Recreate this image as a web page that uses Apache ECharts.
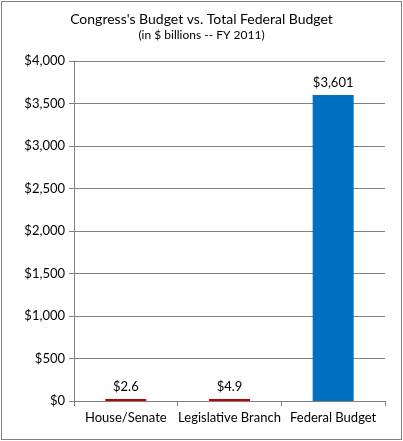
<!DOCTYPE html>
<html>
<head>
<meta charset="utf-8">
<script src="https://cdn.jsdelivr.net/npm/echarts@6/dist/echarts.min.js"></script>
<style>
html,body{margin:0;padding:0;background:#fff;}
#c{position:absolute;left:1px;top:1px;width:399px;height:437px;border:1px solid #808080;}
</style>
</head>
<body>
<div id="c"></div>
<script>
const categories = ['House/Senate', 'Legislative Branch', 'Federal Budget'];
const budgetValues = [2.6, 4.9, 3601];
const labelTexts = ['$2.6', '$4.9', '$3,601'];
const barColors = ['#C00000', '#C00000', '#0070C0'];
const yTicks = [0, 500, 1000, 1500, 2000, 2500, 3000, 3500, 4000];

const font = 'Lato, "Open Sans", sans-serif';
const chart = echarts.init(document.getElementById('c'));
chart.setOption({
  animation: false,
  title: {
    text: "Congress's Budget vs. Total Federal Budget",
    subtext: '(in $ billions -- FY 2011)',
    left: 'center', top: 5, itemGap: 3,
    textStyle: {fontFamily: font, fontSize: 14, fontWeight: 'normal', color: '#000'},
    subtextStyle: {fontFamily: font, fontSize: 12, color: '#000'}
  },
  grid: {left: 72, right: 16, top: 59, bottom: 38},
  xAxis: {
    type: 'category', data: categories,
    axisLine: {lineStyle: {color: '#808080'}},
    axisTick: {show: true, alignWithLabel: false, length: 5, lineStyle: {color: '#808080'}},
    axisLabel: {interval: 0, fontFamily: font, fontSize: 13, color: '#000', margin: 10}
  },
  yAxis: {
    type: 'value', min: 0, max: 4000, interval: 500,
    axisLine: {show: true, lineStyle: {color: '#808080'}},
    axisTick: {show: true, length: 5, lineStyle: {color: '#808080'}},
    splitLine: {lineStyle: {color: '#808080'}},
    axisLabel: {fontFamily: font, fontSize: 13, color: '#000', margin: 9,
      formatter: v => '$' + v.toLocaleString('en-US')}
  },
  series: [{
    type: 'bar',
    barWidth: 41,
    barMinHeight: 2,
    data: budgetValues.map((v, i) => ({value: v, itemStyle: {color: barColors[i]}})),
    label: {show: true, position: 'top', distance: 6, fontFamily: font, fontSize: 13, color: '#000',
      formatter: p => labelTexts[p.dataIndex]}
  }]
});
</script>
</body>
</html>
